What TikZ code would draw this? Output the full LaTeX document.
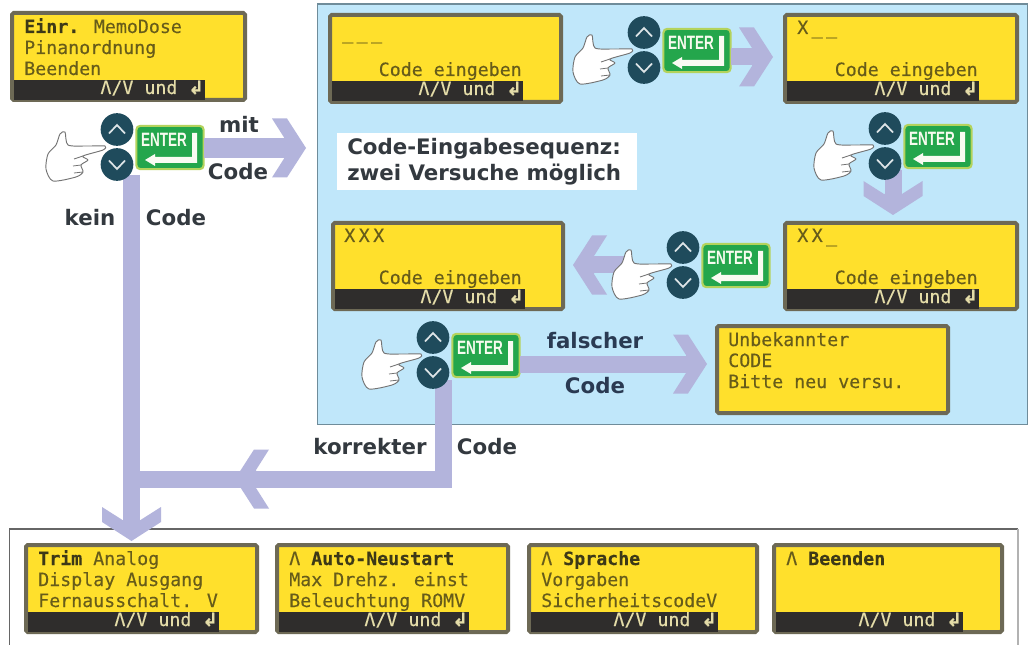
\documentclass[tikz,border=0pt]{standalone}
\usepackage{fontspec}
\setmainfont{DejaVu Sans}
\setsansfont{DejaVu Sans}
\setmonofont{DejaVu Sans Mono}
\newfontfamily\enterfont{Liberation Sans}
\newfontfamily\lcdfont[FakeBold=0.25]{DejaVu Sans Mono}
\definecolor{panelblue}{HTML}{C0E7FA}
\definecolor{panelline}{HTML}{6F8C9A}
\definecolor{arrowcol}{HTML}{B3B4DC}
\definecolor{lcdfill}{HTML}{FFE02C}
\definecolor{lcdedge}{HTML}{6D6955}
\definecolor{lcdbarcol}{HTML}{2F2D2C}
\definecolor{lcdink}{HTML}{675C1A}
\definecolor{lcdbold}{HTML}{3D3917}
\definecolor{lcdlight}{HTML}{E4DCA8}
\definecolor{keyteal}{HTML}{1F4B5C}
\definecolor{entergreen}{HTML}{24A64C}
\definecolor{enterrim}{HTML}{B4D35C}
\definecolor{labelink}{HTML}{33393F}
\definecolor{labelnavy}{HTML}{2A3A52}
\tikzset{
  x=0.75pt,y=-0.75pt,
  lcdbox/.style={draw=lcdedge,fill=lcdfill,line width=3pt,rounded corners=1.2pt,inner sep=0pt,outer sep=0pt},
  lcdbarbox/.style={fill=lcdbarcol,inner sep=0pt,outer sep=0pt},
  lcdtext/.style={text=lcdink,inner sep=0pt,font=\lcdfont\fontsize{13.7}{16}\selectfont},
  lcdbartext/.style={text=lcdlight,inner sep=0pt,font=\lcdfont\fontsize{13.7}{16}\selectfont},
  keybtn/.style={circle,fill=keyteal,minimum size=24.5pt,inner sep=0pt,outer sep=0pt},
  keyglyph/.style={draw=white!85!keyteal,line width=1.3pt},
  enterbox/.style={rectangle,rounded corners=3pt,draw=enterrim,fill=entergreen,line width=1.6pt,minimum width=50.5pt,minimum height=32.5pt,inner sep=0pt,outer sep=0pt},
  entertext/.style={text=white!90!enterrim,inner sep=0pt,xscale=.7,font=\enterfont\bfseries\fontsize{14.5}{16}\selectfont},
  shaft/.style={draw=arrowcol,line width=12.75pt,line cap=butt,line join=miter},
  chevfill/.style={fill=arrowcol,draw=none},
  labeltext/.style={text=labelink,inner sep=0pt,font=\sffamily\bfseries\fontsize{16}{19}\selectfont},
  handshape/.style={draw=black!55,fill=white,line width=.7pt,line join=round},
}
\newcommand{\lcdkern}{\kern2.6pt}
% name, x, y, w, h
\newcommand{\lcdscreen}[5]{%
  \node[lcdbox,minimum width={(#4-4)*0.75pt},minimum height={(#5-4)*0.75pt},anchor=north west] (#1) at (#2+2,#3+2) {};
}
% name, x, y, bar end (relative to x)
\newcommand{\lcdbar}[4]{%
  \fill[lcdbarbox] (#2+4,#3+68) rectangle (#2+#4,#3+88);
  \node[lcdbartext,anchor=base east] (#1-bar) at (#2+#4-1,#3+82) {Λ/V und {\fontspec[FakeBold=1]{DejaVu Sans}\bfseries ↲}};
}
% name, x, y, line number, text
\newcommand{\lcdline}[5]{%
  \node[lcdtext,anchor=base west] (#1-l#4) at (#2+14,#3+1+#4*21) {#5};
}
% name, x, y of mid point between the two keys
\newcommand{\keyunit}[3]{%
  \begin{scope}[shift={(#2,#3)}]
    \path[handshape] plot[smooth cycle,tension=.45] coordinates {(-69,7) (-61,-2) (-57,-13) (-52,-15) (-49,-2) (-30,-1) (-12,-1) (-14,3) (-34,9) (-29,13) (-36,18) (-34,25) (-41,30) (-64,34) (-71,22)};
    \draw[draw=black!55,line width=.6pt] (-34,9) -- (-43,12) (-36,18) -- (-44,19) (-34,25) -- (-43,26);
    \node[keybtn] (#1-up) at (0,-17.5) {};
    \node[keybtn] (#1-down) at (0,17.5) {};
    \draw[keyglyph] (-8,-13.5) -- (0,-22) -- (8,-13.5);
    \draw[keyglyph] (-8,13.5) -- (0,22) -- (8,13.5);
    \node[enterbox] (#1-enter) at (53,0.5) {};
    \node[entertext] (#1-entertext) at (47,-7.5) {ENTER};
    \fill[white!92!enterrim] (75,-14) -- (80,-14) -- (80,16) -- (38,16) -- (38,19) -- (28,13) -- (38,7) -- (38,10) -- (75,10) -- cycle;
  \end{scope}%
}
% coordinate name of the tip, direction in degrees
\newcommand{\chevron}[2]{%
  \fill[chevfill,shift={(#1)},rotate=#2] (0,0) -- (-19,29.5) -- (-34,29.5) -- (-21,9) -- (-21,-9) -- (-34,-29.5) -- (-19,-29.5) -- cycle;
}
\begin{document}
\begin{tikzpicture}
\useasboundingbox (0,0) rectangle (1031,645);
\fill[white] (0,0) rectangle (1031,645);

% panels
\node[draw=panelline,fill=panelblue,line width=1pt,minimum width={710*0.75pt},minimum height={420*0.75pt},anchor=north west,inner sep=0pt] (codepanel) at (316.5,3.5) {};
\coordinate (bl0) at (9.5,645);
\coordinate (bl1) at (9.5,529);
\coordinate (bl2) at (1018,529);
\coordinate (bl3) at (1018,645);
\draw[draw=black!60,line width=1pt] (bl0) -- (bl1) -- (bl2);
\draw[draw=black!30,line width=1pt] (bl2) -- (bl3);

% connector ends
\coordinate (t0) at (306,148);
\coordinate (t1) at (773,57);
\coordinate (t3) at (893,215);
\coordinate (t4) at (573,265);
\coordinate (t5) at (707,364);
\coordinate (t6) at (235,479);
\coordinate (t7) at (131.5,541);
\coordinate (k0) at (443,380);
\coordinate (k1) at (131.5,479);
\coordinate (k2) at (131.5,175);
\coordinate (k3) at (893,170);
\coordinate (k4) at (625,265);

% connectors under the keys
\draw[shaft,shorten >=9pt] (k2) -- (t7);
\draw[shaft] (k0) |- (k1);
\chevron{t6}{180}
\chevron{t7}{-90}
\draw[shaft,shorten >=9pt] (k3) -- (t3);
\chevron{t3}{-90}
\draw[shaft,shorten >=9pt] (k4) -- (t4);
\chevron{t4}{180}

\keyunit{u0}{117}{147}
\keyunit{u1}{644}{50}
\keyunit{u2}{885}{146}
\keyunit{u3}{683}{265}
\keyunit{u4}{433}{355}

\draw[shaft,line width=15pt,shorten >=9pt] (u0-enter.east |- t0) -- (t0);
\chevron{t0}{0}
\draw[shaft,shorten >=9pt] (u1-enter.east |- t1) -- (t1);
\chevron{t1}{0}
\draw[shaft,shorten >=9pt] (u4-enter.east |- t5) -- (t5);
\chevron{t5}{0}

% screens
\lcdscreen{menu}{10}{11}{237}{91}
\lcdbar{menu}{10}{12}{195}
\lcdline{menu}{10}{11}{1}{{\bfseries\color{lcdbold}Einr.} MemoDose}
\lcdline{menu}{10}{11}{2}{Pinanordnung}
\lcdline{menu}{10}{11}{3}{Beenden}

\lcdscreen{c0}{328}{13}{235}{91}
\lcdbar{c0}{328}{13}{195}
\node[lcdtext,anchor=base west] (c0-l1) at (342,39) {\_\lcdkern\_\lcdkern\_};
\node[lcdtext,anchor=base east] (c0-l3) at (522,76) {Code eingeben};

\lcdscreen{c1}{783}{13}{236}{91}
\lcdbar{c1}{783}{13}{196}
\node[lcdtext,anchor=base west] (c1-l1) at (797,34) {X\lcdkern\_\lcdkern\_};
\node[lcdtext,anchor=base east] (c1-l3) at (978,76) {Code eingeben};

\lcdscreen{c2}{783}{221}{236}{90}
\lcdbar{c2}{783}{221}{196}
\node[lcdtext,anchor=base west] (c2-l1) at (797,242) {X\lcdkern X\lcdkern\_};
\node[lcdtext,anchor=base east] (c2-l3) at (978,284) {Code eingeben};

\lcdscreen{c3}{331}{221}{234}{90}
\lcdbar{c3}{331}{221}{194}
\node[lcdtext,anchor=base west] (c3-l1) at (344,242) {X\lcdkern X\lcdkern X};
\node[lcdtext,anchor=base east] (c3-l3) at (522,284) {Code eingeben};

\lcdscreen{wrong}{715}{324}{235}{91}
\lcdline{wrong}{714}{324}{1}{Unbekannter}
\lcdline{wrong}{714}{324}{2}{CODE}
\lcdline{wrong}{714}{324}{3}{Bitte neu versu.}

\lcdscreen{m1}{24}{543}{235}{91}
\lcdbar{m1}{24}{544}{195}
\lcdline{m1}{24}{543}{1}{{\bfseries\color{lcdbold}Trim} Analog}
\lcdline{m1}{24}{543}{2}{Display Ausgang}
\lcdline{m1}{24}{543}{3}{Fernausschalt. V}

\lcdscreen{m2}{275}{543}{235}{91}
\lcdbar{m2}{275}{544}{194}
\lcdline{m2}{275}{543}{1}{Λ {\bfseries\color{lcdbold}Auto-Neustart}}
\lcdline{m2}{275}{543}{2}{Max Drehz. einst}
\lcdline{m2}{275}{543}{3}{Beleuchtung ROMV}

\lcdscreen{m3}{527}{543}{232}{91}
\lcdbar{m3}{527}{544}{191}
\lcdline{m3}{527}{543}{1}{Λ {\bfseries\color{lcdbold}Sprache}}
\lcdline{m3}{527}{543}{2}{Vorgaben}
\lcdline{m3}{527}{543}{3}{SicherheitscodeV}

\lcdscreen{m4}{772}{543}{232}{91}
\lcdbar{m4}{772}{544}{191}
\lcdline{m4}{772}{543}{1}{Λ {\bfseries\color{lcdbold}Beenden}}

% labels
\node[fill=white,inner sep=0pt,minimum width={300*0.75pt},minimum height={57*0.75pt}] (seqbox) at (487,161.5) {};
\node[labeltext,align=left,anchor=west,font=\sffamily\bfseries\fontsize{16}{19.5}\selectfont] (seq) at (347,162) {Code-Eingabesequenz:\\zwei Versuche möglich};
\node[labeltext] (lmit) at (239,124) {mit};
\node[labeltext] (lcode0) at (238,172) {Code};
\node[labeltext] (lkein) at (90,218) {kein};
\node[labeltext] (lcode1) at (176,218) {Code};
\node[labeltext,text=labelnavy] (lfalsch) at (595,341) {falscher};
\node[labeltext,text=labelnavy] (lcode2) at (595,386) {Code};
\node[labeltext] (lkorr) at (370,447) {korrekter};
\node[labeltext] (lcode3) at (487,447) {Code};
\end{tikzpicture}
\end{document}
